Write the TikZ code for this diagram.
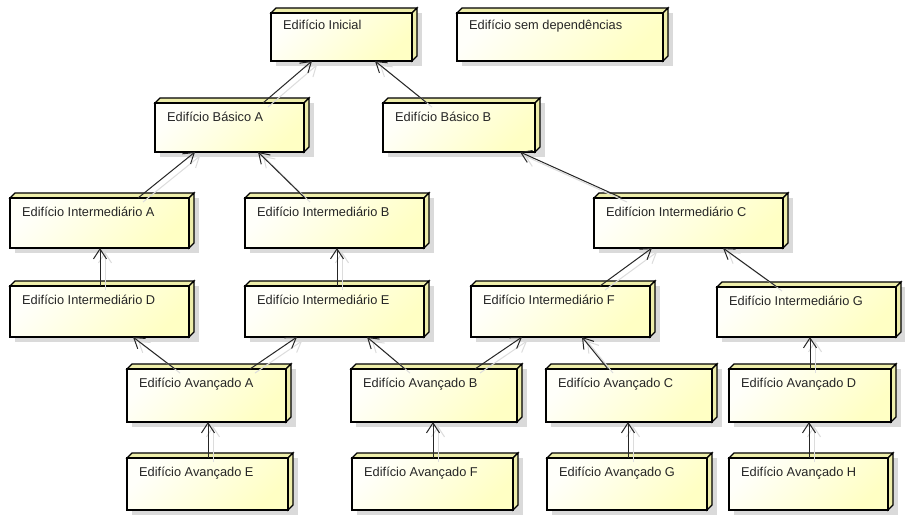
\documentclass[tikz,border=0pt]{standalone}
\usepackage{fontspec}
\setmainfont{Liberation Sans}
\usetikzlibrary{arrows.meta}
\definecolor{frontA}{RGB}{255,255,250}
\definecolor{frontB}{RGB}{255,255,196}
\definecolor{facec}{RGB}{238,238,170}
\definecolor{shadc}{RGB}{218,218,218}
\definecolor{connshad}{RGB}{220,220,220}
\tikzset{
 front/.style={draw=black, line width=1.6pt, top color=frontA, bottom color=frontB, shading angle=45, inner sep=0pt, outer sep=0pt, anchor=north west},
 face/.style={draw=black, line width=1.1pt, fill=facec, line join=miter},
 shad/.style={fill=shadc},
 lbl/.style={font=\fontsize{12.8}{14}\selectfont, text=black!85, inner sep=0pt, anchor=base west},
 conn/.style={draw=black!85, line width=1pt, -{Straight Barb[length=10pt,width=13pt]}},
 connsh/.style={draw=connshad, line width=1pt, -{Straight Barb[length=10pt,width=13pt]}},
}
\newcommand\mybox[7]{%
 \fill[shad] (#2+5,#3) rectangle (#4+10,#5+5);
 \filldraw[face] (#2,#3) -- (#2+5,#3-5) -- (#4+5,#3-5) -- (#4,#3) -- cycle;
 \filldraw[face] (#4,#3) -- (#4+5,#3-5) -- (#4+5,#5-5) -- (#4,#5) -- cycle;
 \node[front, minimum width={(#4-#2)*1pt}, minimum height={(#5-#3)*1pt}] (#1) at (#2,#3) {};
 \node[lbl] (#1t) at ([shift={(12,#7)}]#1.north west) {#6};
}
\newcommand\cn[4]{%
 \draw[connsh] ([shift={(#2+5,4)}]#1.north west) -- ([shift={(#4+5,4)}]#3.south west);
 \draw[conn] ([xshift=#2pt]#1.north west) -- ([xshift=#4pt]#3.south west);
}
\begin{document}
\begin{tikzpicture}[x=1pt,y=-1pt]
\fill[white] (0,0) rectangle (905,517);
\useasboundingbox (0,0) rectangle (905,517);
\mybox{ini}{271}{13}{412}{61}{Edifício Inicial}{16}
\mybox{sem}{457}{13}{663}{61}{Edifício sem dependências}{16}
\mybox{bA}{155}{103}{304}{152}{Edifício Básico A}{18.5}
\mybox{bB}{383}{103}{535}{152}{Edifício Básico B}{18.5}
\mybox{iA}{10}{198}{189}{248}{Edifício Intermediário A}{18.5}
\mybox{iB}{245}{198}{424}{248}{Edifício Intermediário B}{18.5}
\mybox{iC}{594}{198}{783}{248}{Edifícion Intermediário C}{18.5}
\mybox{iD}{10}{286}{189}{337}{Edifício Intermediário D}{18.5}
\mybox{iE}{245}{286}{424}{337}{Edifício Intermediário E}{18.5}
\mybox{iF}{471}{286}{650}{337}{Edifício Intermediário F}{18.5}
\mybox{iG}{717}{287}{896}{337}{Edifício Intermediário G}{18.5}
\mybox{aA}{127}{369}{286}{422}{Edifício Avançado A}{18.5}
\mybox{aB}{351}{369}{517}{422}{Edifício Avançado B}{18.5}
\mybox{aC}{546}{369}{712}{422}{Edifício Avançado C}{18.5}
\mybox{aD}{729}{369}{891}{422}{Edifício Avançado D}{18.5}
\mybox{aE}{127}{458}{288}{510}{Edifício Avançado E}{18.5}
\mybox{aF}{352}{458}{513}{510}{Edifício Avançado F}{18.5}
\mybox{aG}{547}{458}{707}{510}{Edifício Avançado G}{18.5}
\mybox{aH}{729}{458}{888}{510}{Edifício Avançado H}{18.5}
\cn{bA}{108}{ini}{41}
\cn{bB}{44}{ini}{104}
\cn{iA}{128}{bA}{40}
\cn{iB}{60}{bA}{103}
\cn{iC}{28}{bB}{137}
\cn{iD}{90}{iA}{90}
\cn{iE}{92}{iB}{92}
\cn{iF}{129}{iC}{58}
\cn{iG}{60}{iC}{129}
\cn{aA}{48}{iD}{123}
\cn{aA}{123}{iE}{52}
\cn{aB}{54}{iE}{122}
\cn{aB}{124}{iF}{51}
\cn{aC}{62}{iF}{111}
\cn{aD}{81}{iG}{93}
\cn{aE}{81}{aA}{81}
\cn{aF}{81}{aB}{82}
\cn{aG}{81}{aC}{82}
\cn{aH}{80}{aD}{80}
\end{tikzpicture}
\end{document}
